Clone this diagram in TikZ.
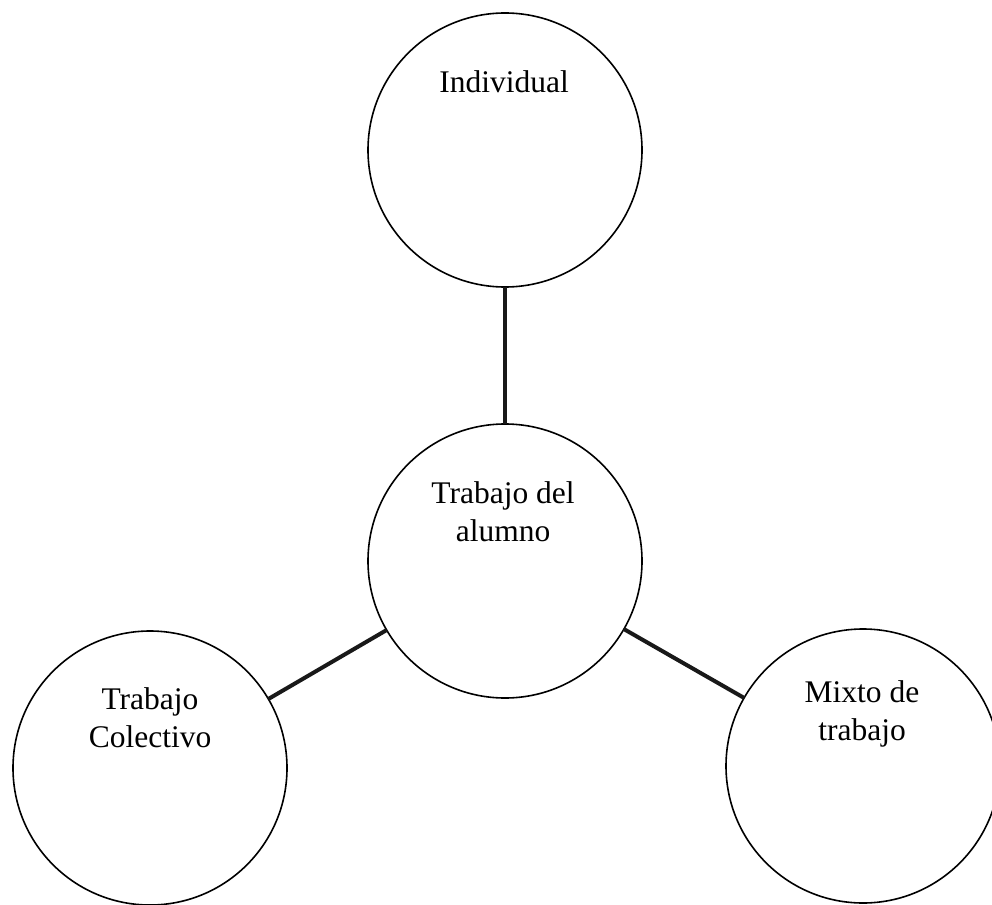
\documentclass[tikz,border=0pt]{standalone}
\usepackage{fontspec}
\setmainfont{Liberation Serif}
\begin{document}
\begin{tikzpicture}[x=1pt,y=-1pt,
  bubble/.style={draw=black,circle,line width=1.6pt,minimum size=274pt,inner sep=0pt,outer sep=0pt},
  label/.style={align=center,font=\fontsize{31.5}{38}\selectfont,inner sep=0pt},
  link/.style={line width=4pt,draw=black!90}]
\useasboundingbox[fill=white] (0,0) rectangle (992,904);
\node[bubble] (c1) at (505,150) {};
\node[bubble] (c2) at (505,561) {};
\node[bubble] (c3) at (150,768) {};
\node[bubble] (c4) at (863,766) {};
\node[label] (t1) at (504,82) {Individual};
\node[label] (t2) at (503,512) {Trabajo del\\alumno};
\node[label] (t3) at (150,718) {Trabajo\\Colectivo};
\node[label] (t4) at (862,714) {Mixto de\\trabajo};
\draw[link] (c2) -- (c1);
\draw[link] (c2) -- (c3);
\draw[link] (c2) -- (c4);
\end{tikzpicture}
\end{document}
